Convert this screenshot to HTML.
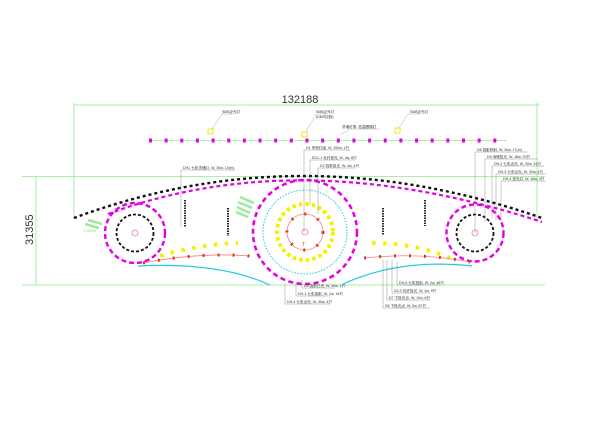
<!DOCTYPE html>
<html><head><meta charset="utf-8"><style>
html,body{margin:0;padding:0;background:#fff;}
svg{display:block;}
text{font-family:"Liberation Sans","Noto Sans CJK SC",sans-serif;}
.t{font-size:3.6px;fill:#333;}
</style></head><body>
<svg width="600" height="421" viewBox="0 0 600 421" xmlns="http://www.w3.org/2000/svg">
<rect width="600" height="421" fill="#fff"/>
<g stroke="#8fe88f" stroke-width="0.8" fill="none">
<line x1="74" y1="105" x2="540" y2="105"/>
<line x1="74" y1="103" x2="74" y2="218"/>
<line x1="537" y1="103" x2="537" y2="222"/>
<line x1="22" y1="176.5" x2="545" y2="176.5"/>
<line x1="22" y1="285" x2="545" y2="285"/>
<line x1="36" y1="176" x2="36" y2="285"/>
<line x1="149" y1="140.5" x2="507" y2="140.5"/>
</g>
<text x="300" y="103" font-size="11" text-anchor="middle" fill="#333">132188</text>
<text x="0" y="0" font-size="11" fill="#333" transform="translate(33,245) rotate(-90)">31355</text>
<line x1="149" y1="140.5" x2="508" y2="140.5" stroke="#e400e4" stroke-width="4" stroke-dasharray="3 12.65"/>
<g stroke="#e6e600" fill="none" stroke-width="0.9">
<rect x="208" y="129" width="5" height="5"/><rect x="302" y="132" width="5" height="5"/><rect x="395" y="128" width="5" height="5"/>
</g>
<g stroke="#999" stroke-width="0.4" fill="none">
<polyline points="212,129 222,114 232,114"/>
<polyline points="306,132 316,114 326,114"/>
<polyline points="399,128 408,114 420,114"/>
<polyline points="340,135 350,129 380,129"/>
</g>
<text class="t" x="222" y="113">SM8泛光灯</text>
<text class="t" x="316" y="113">SM8泛光灯</text>
<text class="t" x="316" y="118" font-size="3">(DMX控制)</text>
<text class="t" x="410" y="113">SM8泛光灯</text>
<text class="t" x="342" y="128">洗墙灯带, 色温跟随灯</text>
<path d="M74,218 Q300,134 542,218" fill="none" stroke="#111" stroke-width="2.4" stroke-dasharray="3 3"/>
<path d="M108,214 Q300,143 542,222" fill="none" stroke="#e400e4" stroke-width="2.2" stroke-dasharray="4 3"/>
<circle cx="135" cy="233" r="30" fill="none" stroke="#e400e4" stroke-width="2.4" stroke-dasharray="5 3"/>
<circle cx="135" cy="233" r="18.5" fill="none" stroke="#111" stroke-width="1.8" stroke-dasharray="3 2"/>
<circle cx="135" cy="233" r="3" fill="none" stroke="#f08080" stroke-width="0.8"/>
<circle cx="475" cy="233" r="28.5" fill="none" stroke="#e400e4" stroke-width="2.4" stroke-dasharray="5 3"/>
<circle cx="475" cy="233" r="18.5" fill="none" stroke="#111" stroke-width="1.8" stroke-dasharray="3 2"/>
<circle cx="475" cy="233" r="3" fill="none" stroke="#f08080" stroke-width="0.8"/>
<circle cx="305" cy="232" r="52" fill="none" stroke="#e400e4" stroke-width="2.6" stroke-dasharray="5 3.5"/>
<circle cx="305" cy="232" r="42" fill="none" stroke="#22cce0" stroke-width="1" stroke-dasharray="1.5 1.5"/>
<circle cx="305" cy="232" r="28" fill="none" stroke="#f2f200" stroke-width="4" stroke-dasharray="3.5 3.1"/>
<circle cx="305" cy="232" r="18" fill="none" stroke="#f08080" stroke-width="0.8"/>
<circle cx="305" cy="232" r="18" fill="none" stroke="#e53030" stroke-width="3" stroke-dasharray="2 12"/>
<circle cx="305" cy="232" r="3" fill="none" stroke="#f08080" stroke-width="0.8"/>
<text x="302" y="246" font-size="5" fill="#e53030">T</text>
<path d="M160,256 Q200,244 238,243" fill="none" stroke="#f2f200" stroke-width="4" stroke-dasharray="3.5 7.5"/>
<path d="M143,263 Q200,252 250,256" fill="none" stroke="#f08080" stroke-width="0.8"/>
<path d="M143,263 Q200,252 250,256" fill="none" stroke="#e53030" stroke-width="3" stroke-dasharray="2 13"/>
<path d="M138,266 Q220,262 270,285" fill="none" stroke="#22cce0" stroke-width="1.2"/>
<path d="M372,243 Q415,243 450,258" fill="none" stroke="#f2f200" stroke-width="4" stroke-dasharray="3.5 7.5"/>
<path d="M364,258 Q420,252 470,262" fill="none" stroke="#f08080" stroke-width="0.8"/>
<path d="M364,258 Q420,252 470,262" fill="none" stroke="#e53030" stroke-width="3" stroke-dasharray="2 13"/>
<path d="M343,284 Q400,258 472,266" fill="none" stroke="#22cce0" stroke-width="1.2"/>
<g stroke="#111" stroke-width="1.8" stroke-dasharray="1.5 1">
<line x1="185" y1="200" x2="185" y2="227"/>
<line x1="228" y1="208" x2="228" y2="236"/>
<line x1="383" y1="208" x2="383" y2="235"/>
<line x1="425" y1="200" x2="425" y2="226"/>
</g>
<g stroke="#9fe89f" stroke-width="2.5">
<line x1="88" y1="220" x2="102" y2="224"/><line x1="85" y1="224" x2="99" y2="228"/>
<line x1="240" y1="197" x2="254" y2="203"/><line x1="238" y1="202" x2="252" y2="208"/><line x1="237" y1="207" x2="250" y2="213"/><line x1="236" y1="212" x2="248" y2="217"/>
</g>
<text x="84" y="232" font-size="3.5" fill="#7ad87a">F15mm</text>
<g stroke="#777" stroke-width="0.4" fill="none">
<polyline points="181,227 181,170 235,170"/>
<polyline points="304,232 304,150 350,150"/>
<polyline points="310,205 310,160 355,160"/>
<polyline points="318,214 318,168 355,168"/>
<polyline points="475,233 475,152 528,152"/>
<polyline points="485,222 485,159 538,159"/>
<polyline points="492,218 492,166 544,166"/>
<polyline points="496,220 496,174 546,174"/>
<polyline points="501,222 501,181 546,181"/>
<polyline points="302,280 302,288 335,288"/>
<polyline points="296,283 296,296 330,296"/>
<polyline points="285,283 285,304 330,304"/>
<polyline points="397,262 397,285 440,285"/>
<polyline points="392,260 392,293 430,293"/>
<polyline points="387,260 387,300 430,300"/>
<polyline points="383,260 383,308 430,308"/>
</g>
<text class="t" x="183" y="169">DH1 七彩洗墙灯, W, 30w, 13(m)</text>
<text class="t" x="306" y="149">D1 甲壳灯组, W, 100w, 1只</text>
<text class="t" x="312" y="159">ED1-1 光纤投光, W, 4w, 8只</text>
<text class="t" x="320" y="167">D2 线条投光, W, 4w, 4只</text>
<text class="t" x="477" y="151">D8 投影斜射, W, 30w, 17(m)</text>
<text class="t" x="487" y="158">D9 地埋投光, W, 18w, 29只</text>
<text class="t" x="494" y="165">DH-2 七彩点光, W, 30w, 34只</text>
<text class="t" x="498" y="173">DH-3 七彩点光, W, 30w, 4只</text>
<text class="t" x="503" y="180">DH-4 投光灯, W, 18w, 4只</text>
<text class="t" x="304" y="287">D5 投射灯光, W, 30w, 1只</text>
<text class="t" x="298" y="295">DH-1 七彩投射, W, 2w, 18只</text>
<text class="t" x="287" y="303">DH-4 七彩点光, W, 30w, 4只</text>
<text class="t" x="399" y="284">DH-5 七彩投射, W, 2w, 48只</text>
<text class="t" x="394" y="292">D2-3 光纤投光, W, 4w, 8只</text>
<text class="t" x="389" y="299">D7 下投光点, W, 10w, 8只</text>
<text class="t" x="385" y="307">D6 下投光点, W, 5w, 87只</text>
</svg>
</body></html>
